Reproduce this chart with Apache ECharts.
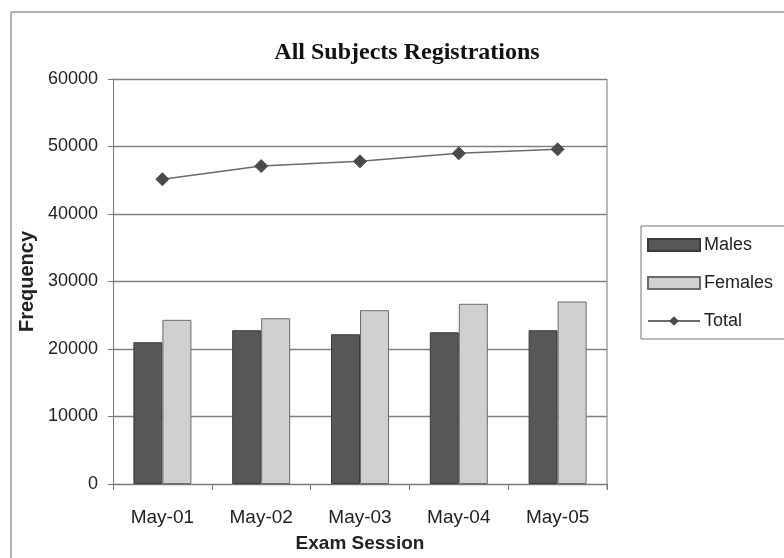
<!DOCTYPE html>
<html>
<head>
<meta charset="utf-8">
<script src="https://cdn.jsdelivr.net/npm/echarts@6/dist/echarts.min.js"></script>
<style>
  html, body { margin: 0; padding: 0; background: #ffffff; }
  #chart { width: 784px; height: 558px; }
</style>
</head>
<body>
<div id="chart"></div>
<script>
// Exam sessions and registration counts
var sessions = ['May-01', 'May-02', 'May-03', 'May-04', 'May-05'];
var males = [21000, 22780, 22180, 22480, 22780];
var females = [24320, 24560, 25750, 26700, 27040];
var totals = [45150, 47100, 47800, 48990, 49580];
var yTicks = [0, 10000, 20000, 30000, 40000, 50000, 60000];

var chart = echarts.init(document.getElementById('chart'), null, { renderer: 'canvas' });

var gridLeft = 113, gridRight = 607, gridTop = 79, gridBottom = 484;

chart.setOption({
  backgroundColor: '#ffffff',
  animation: false,
  title: {
    text: 'All Subjects Registrations',
    left: 402,
    textAlign: 'center',
    top: 36,
    textStyle: {
      fontFamily: 'Liberation Serif',
      fontWeight: 'bold',
      fontSize: 24,
      color: '#111'
    }
  },
  graphic: [
    // chart frame (top and left edges)
    { type: 'line', shape: { x1: 11, y1: 12, x2: 784, y2: 12 }, style: { stroke: '#9a9a9a', lineWidth: 1.5 }, silent: true },
    { type: 'line', shape: { x1: 11, y1: 12, x2: 11, y2: 558 }, style: { stroke: '#9a9a9a', lineWidth: 1.5 }, silent: true },
    // plot area right edge
    { type: 'line', shape: { x1: gridRight, y1: gridTop, x2: gridRight, y2: gridBottom + 5 }, style: { stroke: '#777', lineWidth: 1 }, silent: true }
  ],
  legend: {
    orient: 'vertical',
    left: 641,
    top: 226,
    padding: [10, 40, 9, 6],
    itemWidth: 52,
    itemHeight: 12,
    itemGap: 20,
    backgroundColor: '#ffffff',
    borderColor: '#777',
    borderWidth: 1,
    textStyle: { fontFamily: 'Liberation Sans', fontSize: 18, color: '#222', padding: [0, 0, 0, -1] },
    data: [
      { name: 'Males', icon: 'rect' },
      { name: 'Females', icon: 'rect' },
      { name: 'Total' }
    ]
  },
  grid: {
    left: gridLeft,
    right: 784 - gridRight,
    top: gridTop,
    bottom: 558 - gridBottom,
    containLabel: false,
    outerBoundsMode: 'none'
  },
  xAxis: {
    type: 'category',
    data: sessions,
    name: 'Exam Session',
    nameLocation: 'middle',
    nameGap: 50,
    nameTextStyle: { fontFamily: 'Liberation Sans', fontWeight: 'bold', fontSize: 19, color: '#222' },
    axisLine: { show: true, lineStyle: { color: '#777', width: 1 } },
    axisTick: { show: true, alignWithLabel: false, length: 6, lineStyle: { color: '#777' } },
    axisLabel: { fontFamily: 'Liberation Sans', fontSize: 19, color: '#222', margin: 24 },
    splitLine: { show: false }
  },
  yAxis: {
    type: 'value',
    min: 0,
    max: 60000,
    interval: 10000,
    name: 'Frequency',
    nameLocation: 'middle',
    nameGap: 67,
    nameRotate: 90,
    nameTextStyle: { fontFamily: 'Liberation Sans', fontWeight: 'bold', fontSize: 20, color: '#222' },
    axisLine: { show: true, lineStyle: { color: '#777', width: 1 } },
    axisTick: { show: true, length: 5, lineStyle: { color: '#777' } },
    axisLabel: {
      fontFamily: 'Liberation Sans', fontSize: 18, color: '#222', margin: 15,
      formatter: function (v) { return yTicks.indexOf(v) >= 0 ? String(v) : ''; }
    },
    splitLine: { show: true, lineStyle: { color: '#808080', width: 1.3 } }
  },
  series: [
    {
      name: 'Males',
      type: 'bar',
      data: males,
      barWidth: 29,
      barGap: '0%',
      itemStyle: { color: '#575757', borderColor: '#3a3a3a', borderWidth: 1 }
    },
    {
      name: 'Females',
      type: 'bar',
      data: females,
      barWidth: 29,
      itemStyle: { color: '#d0d0d0', borderColor: '#6a6a6a', borderWidth: 1 }
    },
    {
      name: 'Total',
      type: 'line',
      data: totals,
      symbol: 'diamond',
      symbolSize: 13,
      lineStyle: { color: '#6a6a6a', width: 1.5 },
      itemStyle: { color: '#4a4a4a', borderColor: '#4a4a4a' }
    }
  ]
});
</script>
</body>
</html>
